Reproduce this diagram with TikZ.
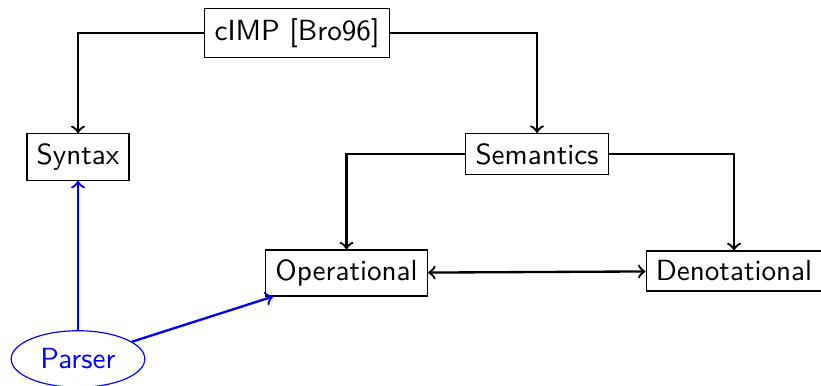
\documentclass[tikz,border=0pt]{standalone}
\usetikzlibrary{shapes.geometric}
\begin{document}
\begin{tikzpicture}[
  x=0.343pt, y=-0.343pt,
  box/.style={draw, line width=0.4pt, font=\sffamily},
  parsernode/.style={ellipse, draw=blue, text=blue, line width=0.4pt, font=\sffamily},
  link/.style={->, thick},
  bluelink/.style={->, thick, blue}
]
\useasboundingbox (0,0) rectangle (821,386);

\node[box] (cimp) at (297,33) {cIMP [Bro96]};
\node[box] (syntax) at (78,157) {Syntax};
\node[box] (sem) at (537,154) {Semantics};
\node[box] (op) at (346.5,273) {Operational};
\node[box] (den) at (734,271) {Denotational};
\node[parsernode] (parser) at (78,359) {Parser};

\draw[link] (cimp) -| (syntax);
\draw[link] (cimp) -| (sem);
\draw[link] (sem) -| (op);
\draw[link] (sem) -| (den);
\draw[link, <->] (op) -- (den);
\draw[bluelink] (parser) -- (syntax);
\draw[bluelink] (parser) -- (op);
\end{tikzpicture}
\end{document}
